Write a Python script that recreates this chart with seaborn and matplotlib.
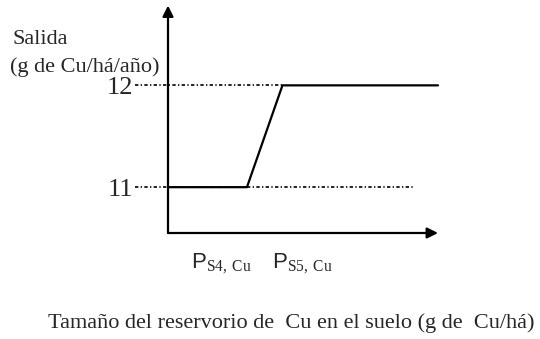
import numpy as np
import matplotlib
matplotlib.use('Agg')
import matplotlib.pyplot as plt
import pandas as pd
import seaborn as sns

# Datos del diagrama (unidades arbitrarias en x)
x_reservorio = [0.0, 1.0, 1.45, 3.42]
y_salida = [11, 11, 12, 12]
niveles = [11, 12]
etiquetas_niveles = ['11', '12']
etiquetas_p = [r'$\mathsf{P}_{\mathrm{S4,\,Cu}}$', r'$\mathsf{P}_{\mathrm{S5,\,Cu}}$']
fin_guia = [3.1, 1.45]   # hasta donde llegan las guías punteadas (11 y 12)

# posición horizontal de las etiquetas P (centro)
pos_p = [0.68, 1.70]

df = pd.DataFrame({'x': x_reservorio, 'y': y_salida})

sns.set_style('white')
plt.rcParams['font.family'] = ['Liberation Serif', 'DejaVu Serif']
plt.rcParams['mathtext.fontset'] = 'custom'
plt.rcParams['mathtext.rm'] = 'Liberation Serif'
plt.rcParams['mathtext.sf'] = 'Liberation Sans'

fig = plt.figure(figsize=(5.4, 3.39), dpi=100)
ax = fig.add_axes([168/540, 1 - 233/339, 270/540, 223/339])

sns.lineplot(data=df, x='x', y='y', sort=False, estimator=None,
             color='black', lw=1.6, ax=ax, clip_on=False)

# guías punteadas
for nivel, fin in zip(niveles, fin_guia):
    ax.plot([-0.42, fin], [nivel, nivel], color='black', lw=1.2,
            ls=(0, (2.0, 1.4, 0.8, 1.4)), clip_on=False)

ax.set_xlim(0, 3.42)
ax.set_ylim(10.55, 12.74)
for s in ax.spines.values():
    s.set_visible(False)
ax.set_xticks([])
ax.set_yticks(niveles)
ax.set_yticklabels(etiquetas_niveles, fontsize=19)
ax.tick_params(axis='y', length=0, pad=25)
ax.set_xlabel('')
ax.set_ylabel('')
ax.grid(False)

# ejes con flechas
arrow = dict(arrowstyle='-|>', color='black', lw=1.6, mutation_scale=16,
             shrinkA=0, shrinkB=0)
ax.annotate('', xy=(1.0, 0), xytext=(0, 0), xycoords='axes fraction', arrowprops=arrow)
ax.annotate('', xy=(0, 1.02), xytext=(0, 0), xycoords='axes fraction', arrowprops=arrow)

for xp, lab in zip(pos_p, etiquetas_p):
    ax.text(xp, 10.25, lab, ha='center', va='center', fontsize=16, clip_on=False)

fig.text(12/540, 1 - 39/339, 'Salida', fontsize=16, va='center')
fig.text(10/540, 1 - 67/339, '(g de Cu/há/año)', fontsize=16, va='center')
fig.text(291/540, 1 - 323/339, 'Tamaño del reservorio de  Cu en el suelo (g de  Cu/há)',
         fontsize=16, ha='center', va='center')

fig.savefig('out.png', dpi=100)
